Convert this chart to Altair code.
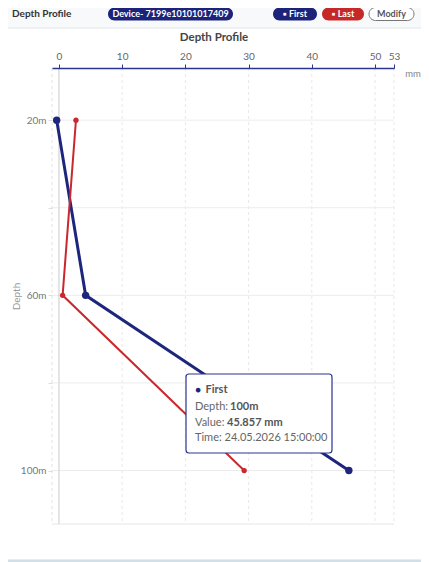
import altair as alt
import pandas as pd

# ---- data ----
depths = [20, 60, 100]
first_values = [-0.36, 4.22, 45.857]
last_values = [2.69, 0.58, 29.3]
series_names = ["First", "Last"]
series_colors = ["#1d267c", "#c9282d"]
x_ticks = [0, 10, 20, 30, 40, 50, 53]
y_ticks = [20, 40, 60, 80, 100]
x_domain = [-1.1, 53]
y_domain = [8.1, 112.2]

header_title = "Depth Profile"
device_label = "Device- 7199e10101017409"
first_label = "▪ First"
last_label = "▪ Last"
modify_label = "Modify"
chart_title = "Depth Profile"
unit_label = "mm"
y_title = "Depth"
tt_series = "First"
tt_lines = ["Depth:", "Value:", "Time: "]
tt_bold = ["100m", "45.857 mm", ""]
tt_rest = ["", "", "24.05.2026 15:00:00"]

# ---- layout (plot area is W x H, origin at PL, PT) ----
W, H = 342, 456
PL, PT = 44, 60
TW, TH = 413, 554
FONT = "Lato"

rows = []
for d, v in zip(depths, first_values):
    rows.append({"depth": d, "value": v, "series": series_names[0]})
for d, v in zip(depths, last_values):
    rows.append({"depth": d, "value": v, "series": series_names[1]})
df = pd.DataFrame(rows)

xscale = alt.Scale(domain=x_domain, nice=False, zero=False)
yscale = alt.Scale(domain=y_domain, nice=False, zero=False, reverse=True)
cscale = alt.Scale(domain=series_names, range=series_colors)

xaxis = alt.Axis(
    orient="top", values=x_ticks, title=None, labelFontSize=10, labelColor="#666",
    labelFont=FONT, labelPadding=3, labelOverlap=False, labelFlush=False,
    domainColor="#2a3590", domainWidth=1.5, tickColor="#2a3590", tickSize=4,
    grid=False, zindex=1,
)
yaxis = alt.Axis(
    orient="left", values=y_ticks,
    labelExpr="datum.value % 40 == 20 ? datum.value + 'm' : ''",
    labelFontSize=10, labelColor="#777", labelFont=FONT, labelPadding=2,
    domain=False, tickColor="#dddddd", tickSize=4, grid=False, zindex=1,
    title=y_title, titleFontSize=10, titleFontWeight="normal", titleColor="#999",
    titleFont=FONT, titleX=-31, titleY=228, titleAngle=270,
)

base = alt.Chart(df)
blank = alt.Chart(pd.DataFrame({"k": [0]}))


def rect(x, x2, y, y2, fill, stroke=None, radius=0, sw=1):
    kw = dict(fill=fill, cornerRadius=radius)
    if stroke:
        kw.update(stroke=stroke, strokeWidth=sw)
    return blank.mark_rect(**kw).encode(
        x=alt.value(x), x2=alt.value(x2), y=alt.value(y), y2=alt.value(y2))


def txt(x, y, s, size=11, color="#333", weight="normal", align="left"):
    return blank.mark_text(fontSize=size, font=FONT, color=color, fontWeight=weight,
                           align=align, baseline="middle").encode(
        x=alt.value(x), y=alt.value(y), text=alt.value(s))


# card + header
card = rect(-PL - 10, 420 - PL, -PT - 10, 552 - PT, "white", "#d2dbe1", 6)
header = rect(-PL - 9, 419 - PL, -PT - 10, 20 - PT, "#f8f9fa")
header_line = blank.mark_rule(color="#e3e6e8", strokeWidth=1).encode(
    x=alt.value(-PL - 9), x2=alt.value(419 - PL), y=alt.value(20 - PT))

hy = 6 - PT
ph = 6.5
pills = [
    rect(100 - PL, 225 - PL, hy - ph, hy + ph, "#1b237a", radius=7),
    txt(162.5 - PL, hy, device_label, 9, "white", "bold", "center"),
    rect(265 - PL, 309 - PL, hy - ph, hy + ph, "#1b237a", radius=7),
    txt(287 - PL, hy, first_label, 9, "white", "bold", "center"),
    rect(314 - PL, 356 - PL, hy - ph, hy + ph, "#c62828", radius=7),
    txt(335 - PL, hy, last_label, 9, "white", "bold", "center"),
    rect(361 - PL, 406 - PL, hy - ph, hy + ph, "white", "#777", 7),
    txt(383.5 - PL, hy, modify_label, 9, "#555", "bold", "center"),
    txt(4 - PL, hy, header_title, 10, "#333", "bold"),
]

title_t = txt(206 - PL, 30 - PT, chart_title, 11.5, "#444", "bold", "center")
unit_t = txt(405 - PL, 6, unit_label, 9.5, "#888", "normal", "center")

# grid
vgrid = alt.Chart(pd.DataFrame({"v": x_ticks[1:]})).mark_rule(
    color="#e8e8e8", strokeDash=[3, 3]).encode(
    x=alt.X("v:Q", scale=xscale, axis=xaxis), y=alt.value(0), y2=alt.value(H))
hgrid = alt.Chart(pd.DataFrame({"d": y_ticks})).mark_rule(color="#ececec").encode(
    y=alt.Y("d:Q", scale=yscale, axis=yaxis), x=alt.value(0), x2=alt.value(W))
left_edge = blank.mark_rule(color="#e2e2e2", strokeDash=[3, 3]).encode(
    x=alt.value(0), y=alt.value(0), y2=alt.value(H))
bottom_edge = blank.mark_rule(color="#e6e6e6").encode(
    x=alt.value(0), x2=alt.value(W), y=alt.value(H))
zero_line = alt.Chart(pd.DataFrame({"z": x_ticks[:1]})).mark_rule(
    color="#dcdcdc", strokeWidth=1.5).encode(
    x=alt.X("z:Q", scale=xscale, axis=xaxis), y=alt.value(0), y2=alt.value(H))

lines = base.mark_line().encode(
    x=alt.X("value:Q", scale=xscale, axis=xaxis),
    y=alt.Y("depth:Q", scale=yscale, axis=yaxis),
    color=alt.Color("series:N", scale=cscale, legend=None),
    strokeWidth=alt.StrokeWidth("series:N", scale=alt.Scale(domain=series_names, range=[3, 2]), legend=None),
    order=alt.Order("depth:Q"),
)
points = base.mark_point(filled=True, opacity=1).encode(
    x=alt.X("value:Q", scale=xscale, axis=xaxis),
    y=alt.Y("depth:Q", scale=yscale, axis=yaxis),
    color=alt.Color("series:N", scale=cscale, legend=None),
    size=alt.Size("series:N", scale=alt.Scale(domain=series_names, range=[55, 28]), legend=None),
)

# tooltip box
tx0, ty0 = 178 - PL, 366 - PT
bold_offsets = [44, 41, 0]
tt = [
    rect(tx0, tx0 + 146, ty0, ty0 + 79, "white", "#2a3590", 3, 1.2),
    txt(tx0 + 12, ty0 + 16, "●", 9.5, series_colors[0], "normal", "center"),
    txt(tx0 + 19.5, ty0 + 16, tt_series, 11, "#555", "bold"),
]
for i, (a, b, c) in enumerate(zip(tt_lines, tt_bold, tt_rest)):
    yy = ty0 + 33 + i * 15.5
    tt.append(txt(tx0 + 9, yy, a + c, 11, "#666"))
    if b:
        tt.append(txt(tx0 + bold_offsets[i], yy, b, 11, "#555", "bold"))

chart = alt.layer(
    card, header, header_line, *pills, title_t, unit_t,
    vgrid, hgrid, left_edge, bottom_edge, zero_line, lines, points, *tt,
).properties(
    width=W, height=H,
    autosize=alt.AutoSizeParams(type="none"),
    padding={"left": PL, "top": PT, "right": TW - PL - W, "bottom": TH - PT - H},
    background="#d3dfe6",
).configure_view(stroke=None)

chart.save("out.html", embed_options={"renderer": "svg", "actions": False})
